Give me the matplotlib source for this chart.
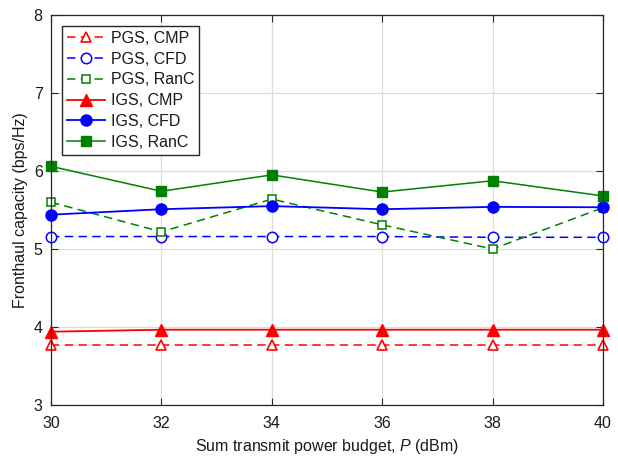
import matplotlib
matplotlib.use("Agg")
import matplotlib.pyplot as plt

FAM = 'Liberation Sans'
FS = 11.5

plt.rcParams['font.family'] = [FAM, 'DejaVu Sans']
plt.rcParams['mathtext.fontset'] = 'custom'
plt.rcParams['mathtext.it'] = FAM + ':italic'
plt.rcParams['mathtext.rm'] = FAM

power = [30, 32, 34, 36, 38, 40]
pgs_cmp = [3.77, 3.77, 3.77, 3.77, 3.77, 3.77]
pgs_cfd = [5.16, 5.16, 5.16, 5.16, 5.15, 5.15]
pgs_ranc = [5.60, 5.22, 5.64, 5.31, 5.00, 5.53]
igs_cmp = [3.94, 3.965, 3.965, 3.965, 3.965, 3.965]
igs_cfd = [5.44, 5.51, 5.55, 5.51, 5.54, 5.535]
igs_ranc = [6.06, 5.74, 5.95, 5.73, 5.875, 5.68]
xticks = [30, 32, 34, 36, 38, 40]
yticks = [3, 4, 5, 6, 7, 8]

fig = plt.figure(figsize=(6.18, 4.58), dpi=100)
ax = fig.add_axes([51/618, 1-405/458, (603-51)/618, (405-15)/458])

dash = (0, (5.5, 3.5))
ax.plot(power, pgs_cmp, linestyle=dash, color='#ff0000', marker='^', mfc='white', mec='#ff0000', ms=7.5, mew=1.2, lw=1.1, label='PGS, CMP', clip_on=False)
ax.plot(power, pgs_cfd, linestyle=dash, color='#0000ff', marker='o', mfc='white', mec='#0000ff', ms=7.5, mew=1.1, lw=1.1, label='PGS, CFD', clip_on=False)
ax.plot(power, pgs_ranc, linestyle=dash, color='#008000', marker='s', mfc='white', mec='#008000', ms=6, mew=1.1, lw=1.1, label='PGS, RanC', clip_on=False)
ax.plot(power, igs_cmp, '-', color='#ff0000', marker='^', mfc='#ff0000', mec='#ff0000', ms=8, lw=1.3, label='IGS, CMP', clip_on=False)
ax.plot(power, igs_cfd, '-', color='#0000ff', marker='o', mfc='#0000ff', mec='#0000ff', ms=8, lw=1.3, label='IGS, CFD', clip_on=False)
ax.plot(power, igs_ranc, '-', color='#008000', marker='s', mfc='#008000', mec='#008000', ms=6.5, lw=1.1, label='IGS, RanC', clip_on=False)

ax.set_xlim(30, 40)
ax.set_ylim(3, 8)
ax.set_xticks(xticks)
ax.set_yticks(yticks)
ax.grid(True, color='#dcdcdc', lw=0.9)
ax.set_axisbelow(True)
ax.tick_params(direction='in', length=5, width=0.8, labelsize=FS, colors='#262626', top=True, right=True)
ax.tick_params(axis='x', pad=8)
ax.tick_params(axis='y', pad=6)
for s in ax.spines.values():
    s.set_color('#262626')
    s.set_linewidth(0.9)
for lbl in ax.get_xticklabels() + ax.get_yticklabels():
    lbl.set_color('#1a1a1a')

ax.set_xlabel('Sum transmit power budget, $P$ (dBm)', fontsize=FS, labelpad=4, color='#1a1a1a')
ax.set_ylabel('Fronthaul capacity (bps/Hz)', fontsize=FS, labelpad=4, color='#1a1a1a')

leg = ax.legend(loc='upper left', fontsize=FS, fancybox=False, edgecolor='#262626',
                framealpha=1, borderaxespad=0.7, handlelength=2.4, handletextpad=0.35,
                labelspacing=0.36, borderpad=0.3)
leg.get_frame().set_linewidth(1.0)
for t in leg.get_texts():
    t.set_color('#1a1a1a')

fig.savefig('out.png', dpi=100)
